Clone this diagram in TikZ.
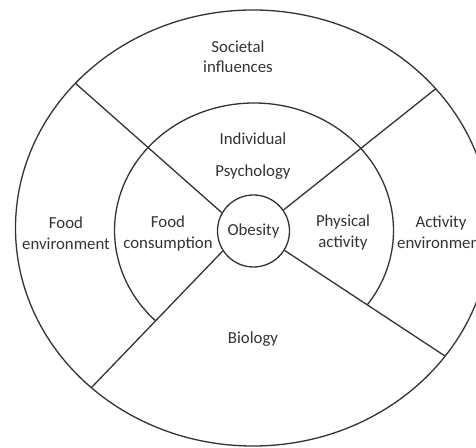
\documentclass[tikz,border=0pt]{standalone}
\usepackage{fontspec}
\setmainfont{Carlito}
\begin{document}
\begin{tikzpicture}[x=1pt,y=1pt,
  ring/.style={line width=1.3pt, draw=black!80},
  spoke/.style={line width=1.3pt, draw=black!80},
  lbl/.style={align=center, text=black!80, font=\fontsize{16.8}{20.5}\selectfont, inner sep=0pt}]
\clip (0,0) rectangle (476,447);
\fill[white] (0,0) rectangle (476,447);
% centres
\coordinate (co) at (253,219);
\coordinate (cm) at (254,216.5);
% outer and middle rings
\draw[ring] (co) ellipse [x radius=237.5, y radius=218];
\draw[ring] ([shift={(cm)}]-35.4:139.5 and 127.5) arc [start angle=-35.4, end angle=224.9, x radius=139.5, y radius=127.5];
% centre node
\node[circle, ring, minimum size=72pt, inner sep=0pt, lbl] (ob) at (253.5,216) {Obesity};
% spoke end points on the outer ring
\coordinate (ulo) at ([shift={(co)}]138.4:237.5 and 218);
\coordinate (uro) at ([shift={(co)}]39.7:237.5 and 218);
\coordinate (llo) at ([shift={(co)}]227.1:237.5 and 218);
\coordinate (lro) at ([shift={(co)}]-36:237.5 and 218);
\draw[spoke] (ob.150.9) -- (ulo);
\draw[spoke] (ob.35.8) -- (uro);
\draw[spoke] (ob.213.9) -- (llo);
\draw[spoke] (ob.-32) -- (lro);
% labels
\node[lbl] (soc) at (238,390.5) {Societal\\influences};
\node[lbl, font=\fontsize{16.8}{32}\selectfont] (psy) at (253,291) {Individual\\Psychology};
\node[lbl] (fenv) at (66,214) {Food\\environment};
\node[lbl] (fcon) at (168,213.5) {Food\\consumption};
\node[lbl] (pa) at (343,214.5) {Physical\\activity};
\node[lbl] (aenv) at (441,214.5) {Activity\\environment};
\node[lbl] (bio) at (253,108) {Biology};
\end{tikzpicture}
\end{document}
